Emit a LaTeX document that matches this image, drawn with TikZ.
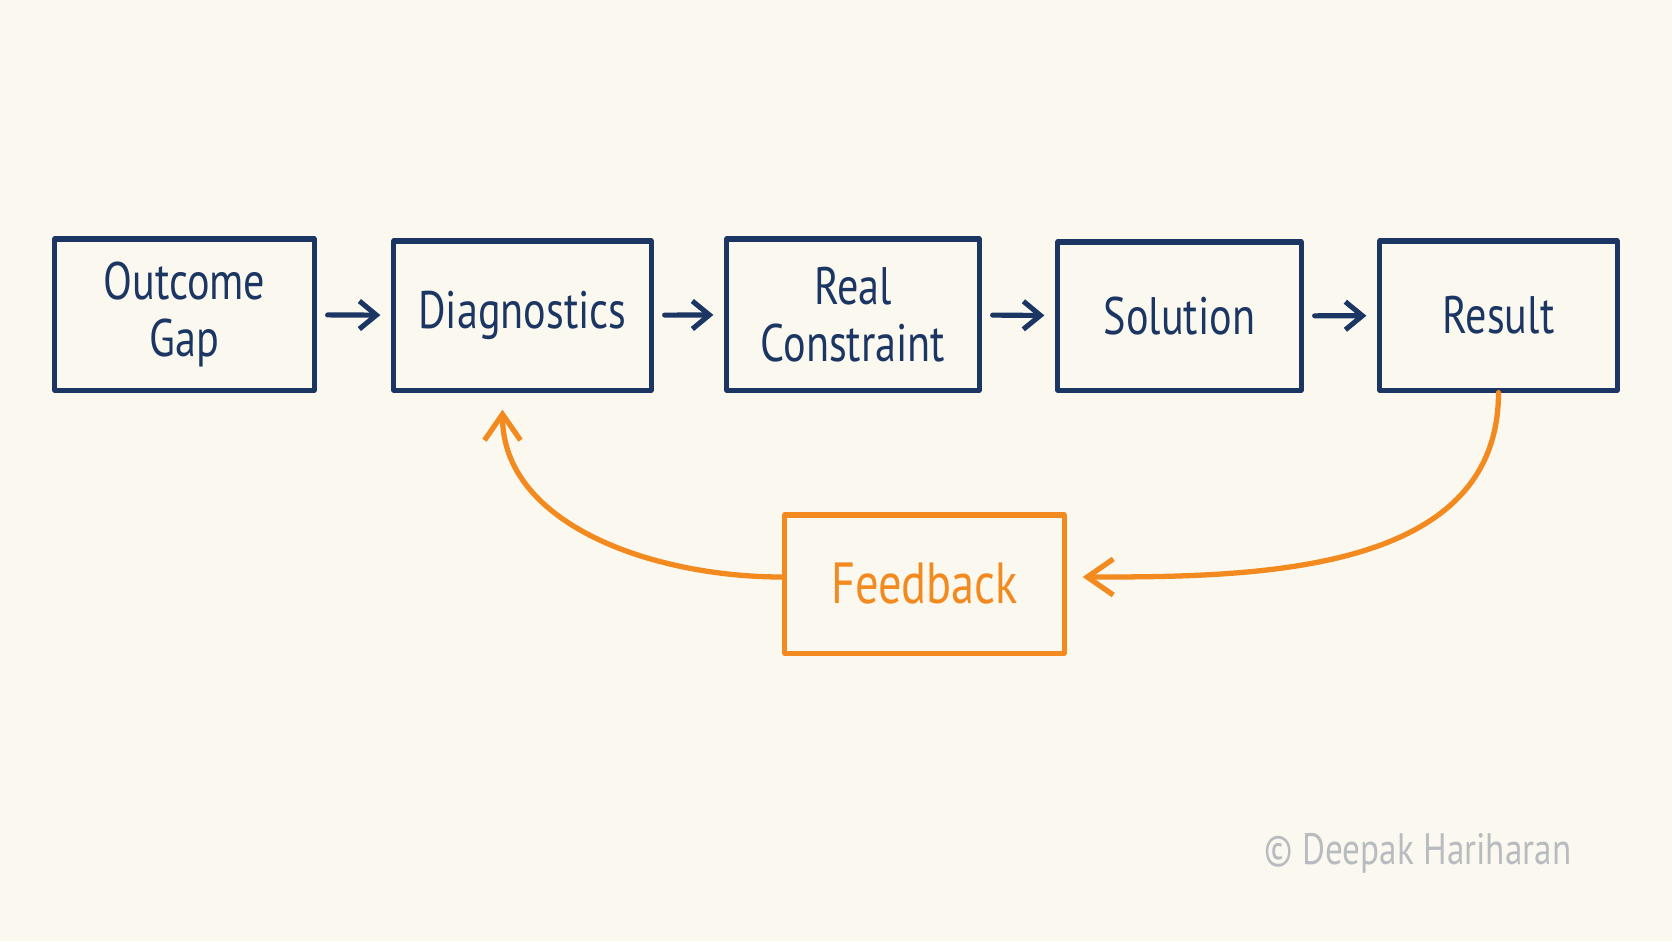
\documentclass[tikz,border=0pt]{standalone}
\usepackage{fontspec}
\setmainfont{PT Sans}[FakeStretch=0.8]
\usepackage{tikz}
\usetikzlibrary{arrows.meta,positioning,calc}
\definecolor{inkblue}{HTML}{1B3663}
\definecolor{inkorange}{HTML}{F28A1F}
\definecolor{paper}{HTML}{FBF8EF}
\definecolor{signgray}{HTML}{B8BBC0}

\begin{document}
\begin{tikzpicture}[line cap=round,line join=round,x=0.01cm,y=-0.01cm,
        box/.style={draw=inkblue,text=inkblue,line width=1.45pt,align=center,inner sep=0pt,font=\fontsize{15}{16}\selectfont},
        fbbox/.style={draw=inkorange,text=inkorange,line width=1.45pt,inner sep=0pt,font=\fontsize{16.5}{18}\selectfont},
        flow/.style={draw=inkblue,line width=1.45pt,-{Straight Barb[length=1.7mm,width=2.8mm]},shorten <=0.11cm,shorten >=0.11cm},
        loop/.style={draw=inkorange,line width=1.5pt,-{Straight Barb[length=2.6mm,width=3.6mm]}}]
                \fill [paper] (0,0) rectangle (1672,941);
                \useasboundingbox (0,0) rectangle (1672,941);
                \node [box,minimum width=2.59cm,minimum height=1.51cm] (outcome) at (184.5,314.5) {Outcome\\Gap};
                \node [box,minimum width=2.57cm,minimum height=1.49cm] (diag) at (522.5,315.5) {Diagnostics};
                \node [box,minimum width=2.52cm,minimum height=1.51cm] (real) at (853,314.5) {Real\\Constraint};
                \node [box,minimum width=2.43cm,minimum height=1.48cm] (solution) at (1179.5,316) {Solution};
                \node [box,minimum width=2.37cm,minimum height=1.49cm] (result) at (1498.5,315.5) {Result};
                \node [fbbox,minimum width=2.79cm,minimum height=1.38cm] (feedback) at (924.5,584) {Feedback};
                \coordinate (diagin) at ($(diag.south)+(-20,0)$);
                \draw [flow] (outcome) -- (diag);
                \draw [flow] (diag) -- (real);
                \draw [flow] (real) -- (solution);
                \draw [flow] (solution) -- (result);
                \draw [loop,shorten >=0.16cm] (result.south) to[out=-90,in=0] ([yshift=0.07cm]feedback.east);
                \draw [loop,shorten >=0.17cm] ([yshift=0.07cm]feedback.west) to[out=180,in=-90] (diagin);
                \node [text=signgray,font=\fontsize{12.5}{14}\selectfont] (sign) at (1418,853) {© Deepak Hariharan};
            \end{tikzpicture}
\end{document}
